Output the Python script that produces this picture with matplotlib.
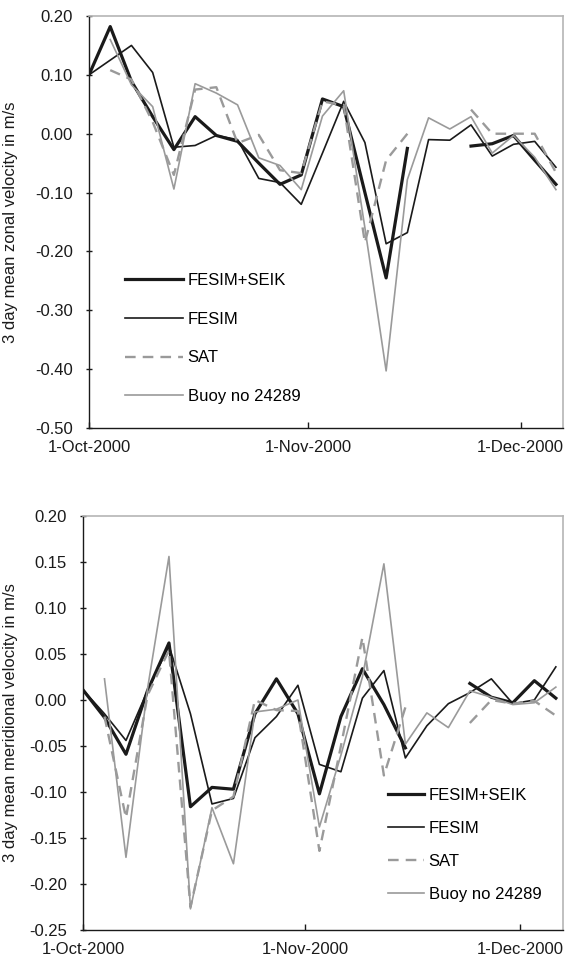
import datetime
import matplotlib
matplotlib.use('Agg')
import matplotlib.pyplot as plt
import matplotlib.dates as mdates
from matplotlib.ticker import MultipleLocator, FormatStrFormatter
import numpy as np

nan = np.nan

# 3 day means, one value every 3 days from 1 Oct 2000
start = datetime.date(2000, 10, 1)
days = [start + datetime.timedelta(days=3 * i) for i in range(23)]

zonal_fesim_seik = [0.100, 0.182, 0.089, 0.029, -0.027, 0.029, -0.003, -0.013, -0.050, -0.086, -0.070, 0.059,
                    0.046, -0.100, -0.245, -0.025, nan, nan, -0.021, -0.017, -0.003, -0.045, -0.086]
zonal_fesim = [0.100, 0.125, 0.150, 0.104, -0.023, -0.020, -0.003, -0.010, -0.076, -0.083, -0.120, -0.033,
               0.055, -0.015, -0.187, -0.168, -0.010, -0.011, 0.015, -0.038, -0.018, -0.013, -0.057]
zonal_sat = [nan, 0.108, 0.092, 0.020, -0.070, 0.075, 0.079, -0.016, -0.002, -0.062, -0.067, 0.055,
             0.048, -0.185, -0.045, 0.000, nan, nan, 0.041, 0.000, 0.000, 0.000, -0.066]
zonal_buoy = [nan, 0.160, 0.083, 0.046, -0.094, 0.085, 0.069, 0.049, -0.041, -0.054, -0.095, 0.030,
              0.073, -0.160, -0.403, -0.078, 0.027, 0.008, 0.029, -0.033, -0.003, -0.040, -0.095]

merid_fesim_seik = [0.011, -0.019, -0.059, 0.010, 0.062, -0.116, -0.095, -0.097, -0.015, 0.023, -0.015, -0.102,
                    -0.018, 0.034, -0.005, -0.052, nan, nan, 0.018, 0.003, -0.003, 0.021, 0.002]
merid_fesim = [0.011, -0.015, -0.044, 0.010, 0.059, -0.015, -0.113, -0.107, -0.041, -0.018, 0.016, -0.070,
               -0.078, 0.002, 0.032, -0.063, -0.028, -0.004, 0.008, 0.023, -0.004, 0.000, 0.036]
merid_sat = [nan, -0.018, -0.128, 0.005, 0.054, -0.225, -0.120, -0.105, 0.000, -0.011, -0.012, -0.164,
             -0.050, 0.068, -0.082, -0.008, nan, nan, -0.025, 0.000, -0.004, -0.001, -0.017]
merid_buoy = [nan, 0.023, -0.171, 0.012, 0.156, -0.227, -0.117, -0.178, -0.013, -0.010, 0.000, -0.138,
              -0.060, 0.025, 0.148, -0.048, -0.014, -0.030, 0.010, 0.003, -0.005, -0.003, 0.014]

labels = ['FESIM+SEIK', 'FESIM', 'SAT', 'Buoy no 24289']
tick_dates = [datetime.date(2000, 10, 1), datetime.date(2000, 11, 1), datetime.date(2000, 12, 1)]
tick_labels = ['1-Oct-2000', '1-Nov-2000', '1-Dec-2000']

plt.rcParams['font.family'] = ['Liberation Sans', 'DejaVu Sans']
plt.rcParams['font.size'] = 12

BLACK = '#1a1a1a'
GRAY = '#9a9a9a'


def draw_panel(ax, series, ylim, step, ylabel, legend_anchor, handlelength, labelspacing):
    styles = [
        dict(color=BLACK, lw=2.3),
        dict(color=BLACK, lw=1.2),
        dict(color=GRAY, lw=1.7, dashes=(4.5, 3)),
        dict(color=GRAY, lw=1.2),
    ]
    for values, label, style in zip(series, labels, styles):
        ax.plot(days, values, label=label, **style)
    ax.set_xlim(datetime.date(2000, 10, 1), datetime.date(2000, 12, 7))
    ax.set_ylim(*ylim)
    ax.yaxis.set_major_locator(MultipleLocator(step))
    ax.yaxis.set_major_formatter(FormatStrFormatter('%.2f'))
    ax.set_xticks([mdates.date2num(d) for d in tick_dates])
    ax.set_xticklabels(tick_labels)
    ax.tick_params(axis='x', direction='in', length=4, width=1, pad=9, colors=BLACK)
    ax.tick_params(axis='y', direction='inout', length=5, width=1, pad=9, colors=BLACK)
    for side in ['top', 'right']:
        ax.spines[side].set_color('#b5b5b5')
        ax.spines[side].set_linewidth(1.2)
    for side in ['left', 'bottom']:
        ax.spines[side].set_color(BLACK)
        ax.spines[side].set_linewidth(1.0)
    ax.set_ylabel(ylabel, color=BLACK)
    ax.legend(loc='upper left', bbox_to_anchor=legend_anchor, frameon=False, borderpad=0,
              handlelength=handlelength, handletextpad=0.25, labelspacing=labelspacing,
              borderaxespad=0)


fig = plt.figure(figsize=(5.71, 9.67), dpi=100)
W, H = 571.0, 967.0
ax1 = fig.add_axes([89 / W, 1 - 428 / H, (563 - 89) / W, (428 - 16) / H])
ax2 = fig.add_axes([83 / W, 1 - 930 / H, (563 - 83) / W, (930 - 516) / H])

draw_panel(ax1, [zonal_fesim_seik, zonal_fesim, zonal_sat, zonal_buoy], (-0.5, 0.2), 0.1,
           '3 day mean zonal velocity in m/s', (0.076, 0.376), 3.5, 1.42)
draw_panel(ax2, [merid_fesim_seik, merid_fesim, merid_sat, merid_buoy], (-0.25, 0.2), 0.05,
           '3 day mean meridional velocity in m/s', (0.635, 0.343), 2.2, 1.08)
ax1.yaxis.set_label_coords(-0.15, 0.5)
ax2.yaxis.set_label_coords(-0.135, 0.5)

fig.savefig('out.png', dpi=100)
